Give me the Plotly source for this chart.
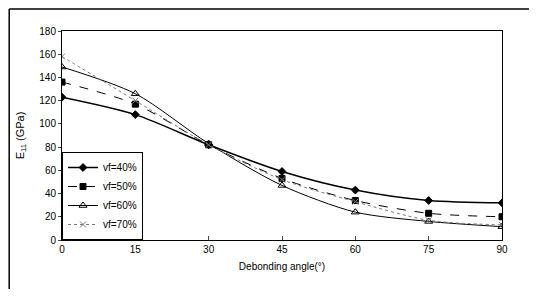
import plotly.graph_objects as go

angles = [0, 15, 30, 45, 60, 75, 90]
vf40 = [123, 108, 82, 59, 43, 34, 32]
vf50 = [136, 117, 82, 53, 34, 23, 20]
vf60 = [149, 126, 83, 47, 24, 16, 11.5]
vf70 = [158, 120, 82, 52, 33, 17, 13]
names = ["vf=40%", "vf=50%", "vf=60%", "vf=70%"]
xticks = [0, 15, 30, 45, 60, 75, 90]
yticks = [0, 20, 40, 60, 80, 100, 120, 140, 160, 180]

styles = [
    dict(dash="solid", color="black", width=1.5, symbol="diamond", mcolor="black", msize=6),
    dict(dash="dash", color="black", width=1, symbol="square", mcolor="black", msize=6),
    dict(dash="solid", color="black", width=1, symbol="triangle-up-open", mcolor="black", msize=7),
    dict(dash="dot", color="#777777", width=1, symbol="x-thin-open", mcolor="#777777", msize=6),
]

fig = go.Figure()
for name, ys, s in zip(names, [vf40, vf50, vf60, vf70], styles):
    fig.add_trace(go.Scatter(
        x=angles, y=ys, name=name, mode="lines+markers",
        line=dict(color=s["color"], width=s["width"], dash=s["dash"], shape="spline", smoothing=0.8),
        marker=dict(symbol=s["symbol"], size=s["msize"], color=s["mcolor"],
                    line=dict(color=s["mcolor"], width=1)),
    ))

font = "Liberation Sans, Arial, sans-serif"
fig.update_layout(
    width=529, height=288,
    margin=dict(l=54, r=35, t=23, b=56),
    paper_bgcolor="white", plot_bgcolor="white",
    font=dict(family=font, size=10, color="black"),
    showlegend=True,
    legend=dict(x=0, y=0, xanchor="left", yanchor="bottom",
                bgcolor="white", bordercolor="black", borderwidth=1,
                font=dict(size=10), tracegroupgap=0, itemwidth=30),
    xaxis=dict(range=[0, 90], tickvals=xticks, ticktext=[str(t) for t in xticks],
               showgrid=False, zeroline=False, showline=True, linecolor="black",
               linewidth=1, mirror=True, ticks="inside", ticklen=4,
               title=dict(text="Debonding angle(°)", font=dict(size=10), standoff=8)),
    yaxis=dict(range=[0, 180], tickvals=yticks, ticktext=[str(t) for t in yticks],
               showgrid=False, zeroline=False, showline=True, linecolor="black",
               linewidth=1, mirror=True, ticks="outside", ticklen=3,
               title=dict(text="E<sub>11</sub> (GPa)", font=dict(size=11), standoff=12)),
    shapes=[
        dict(type="line", xref="paper", yref="paper", x0=-0.12, x1=1.07, y0=1.105, y1=1.105,
             line=dict(color="black", width=1.5)),
        dict(type="line", xref="paper", yref="paper", x0=-0.12, x1=-0.12, y0=1.105, y1=-0.235,
             line=dict(color="black", width=1.5)),
    ],
)
fig.write_html("out.html")
